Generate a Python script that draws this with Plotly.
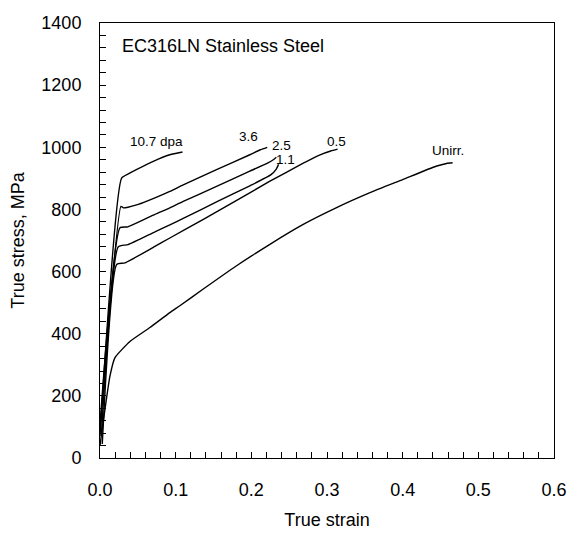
import plotly.graph_objects as go

# ---- data (true strain, true stress MPa) ----
labels = ["10.7 dpa", "3.6", "2.5", "1.1", "0.5", "Unirr."]

strain_107 = [0.0, 0.0286, 0.038, 0.048, 0.0704, 0.0923, 0.109]
stress_107 = [70, 901, 915, 928, 955, 976, 985]

strain_36 = [0.0005, 0.0277, 0.031, 0.037, 0.0506, 0.0726, 0.0923, 0.110, 0.154, 0.198, 0.212, 0.221]
stress_36 = [100, 810, 805, 807, 816, 837, 858, 879, 928, 976, 992, 1000]

strain_25 = [0.0005, 0.0264, 0.037, 0.0726, 0.0923, 0.110, 0.154, 0.198, 0.222, 0.229, 0.233]
stress_25 = [125, 741, 744, 784, 805, 826, 874, 923, 950, 960, 968]

strain_11 = [0.002, 0.0242, 0.037, 0.0726, 0.0923, 0.110, 0.154, 0.198, 0.226, 0.233, 0.236]
stress_11 = [80, 680, 687, 728, 750, 771, 824, 876, 912, 930, 945]

strain_05 = [0.003, 0.022, 0.033, 0.0726, 0.0923, 0.136, 0.180, 0.224, 0.268, 0.290, 0.305, 0.314]
stress_05 = [45, 623, 628, 681, 708, 767, 828, 890, 948, 975, 988, 994]

strain_un = [0.0, 0.0132, 0.0198, 0.0396, 0.066, 0.0923, 0.1055, 0.136, 0.180, 0.224, 0.268,
             0.312, 0.356, 0.400, 0.444, 0.458, 0.466]
stress_un = [40, 264, 323, 375, 420, 468, 490, 543, 618, 687, 751,
             805, 853, 896, 939, 948, 950]

# label anchor positions (strain, stress)
label_x = [0.0748, 0.196, 0.240, 0.245, 0.313, 0.4595]
label_y = [1018, 1035, 1006, 960, 1019, 990]

series = [(strain_107, stress_107), (strain_36, stress_36), (strain_25, stress_25),
          (strain_11, stress_11), (strain_05, stress_05), (strain_un, stress_un)]

fig = go.Figure()
for (xs, ys), name in zip(series, labels):
    fig.add_trace(go.Scatter(x=xs, y=ys, mode="lines", name=name,
                             line=dict(color="black", width=1.4, shape="spline", smoothing=0.5),
                             showlegend=False, hoverinfo="skip"))

for name, lx, ly in zip(labels, label_x, label_y):
    fig.add_annotation(x=lx, y=ly, text=name, showarrow=False,
                       font=dict(size=13.5, color="black", family="Liberation Sans, Arial"),
                       xanchor="center", yanchor="middle")

fig.add_annotation(x=0.0265, y=1325, text="EC316LN Stainless Steel", showarrow=False,
                   xanchor="left", yanchor="middle",
                   font=dict(size=18, color="black", family="Liberation Sans, Arial"))

axis_font = dict(size=18, color="black", family="Liberation Sans, Arial")

fig.update_xaxes(range=[0, 0.6], tickvals=[0, 0.1, 0.2, 0.3, 0.4, 0.5, 0.6],
                 ticktext=["0.0", "0.1", "0.2", "0.3", "0.4", "0.5", "0.6"],
                 ticks="inside", ticklen=6, tickcolor="black", tickwidth=1,
                 minor=dict(dtick=0.02, ticks="inside", ticklen=6, tickcolor="black", tickwidth=1),
                 showline=True, linecolor="black", linewidth=1, mirror=True,
                 showgrid=False, zeroline=False, tickfont=axis_font,
                 ticklabelstandoff=15,
                 title=dict(text="True strain", font=axis_font, standoff=14))

fig.update_yaxes(range=[0, 1400], tickvals=[0, 200, 400, 600, 800, 1000, 1200, 1400],
                 ticks="inside", ticklen=6, tickcolor="black", tickwidth=1,
                 minor=dict(dtick=40, ticks="inside", ticklen=6, tickcolor="black", tickwidth=1),
                 showline=True, linecolor="black", linewidth=1, mirror=True,
                 showgrid=False, zeroline=False, tickfont=axis_font,
                 ticklabelstandoff=14,
                 title=dict(text="True stress, MPa", font=axis_font, standoff=12))

fig.update_layout(width=570, height=533,
                  margin=dict(l=100, r=16, t=23, b=75, autoexpand=False),
                  plot_bgcolor="white", paper_bgcolor="white",
                  font=dict(family="Liberation Sans, Arial", color="black"))

fig.write_html("out.html", config={"displayModeBar": False},
               post_script="document.body.style.margin='0';document.body.style.overflow='hidden';")
